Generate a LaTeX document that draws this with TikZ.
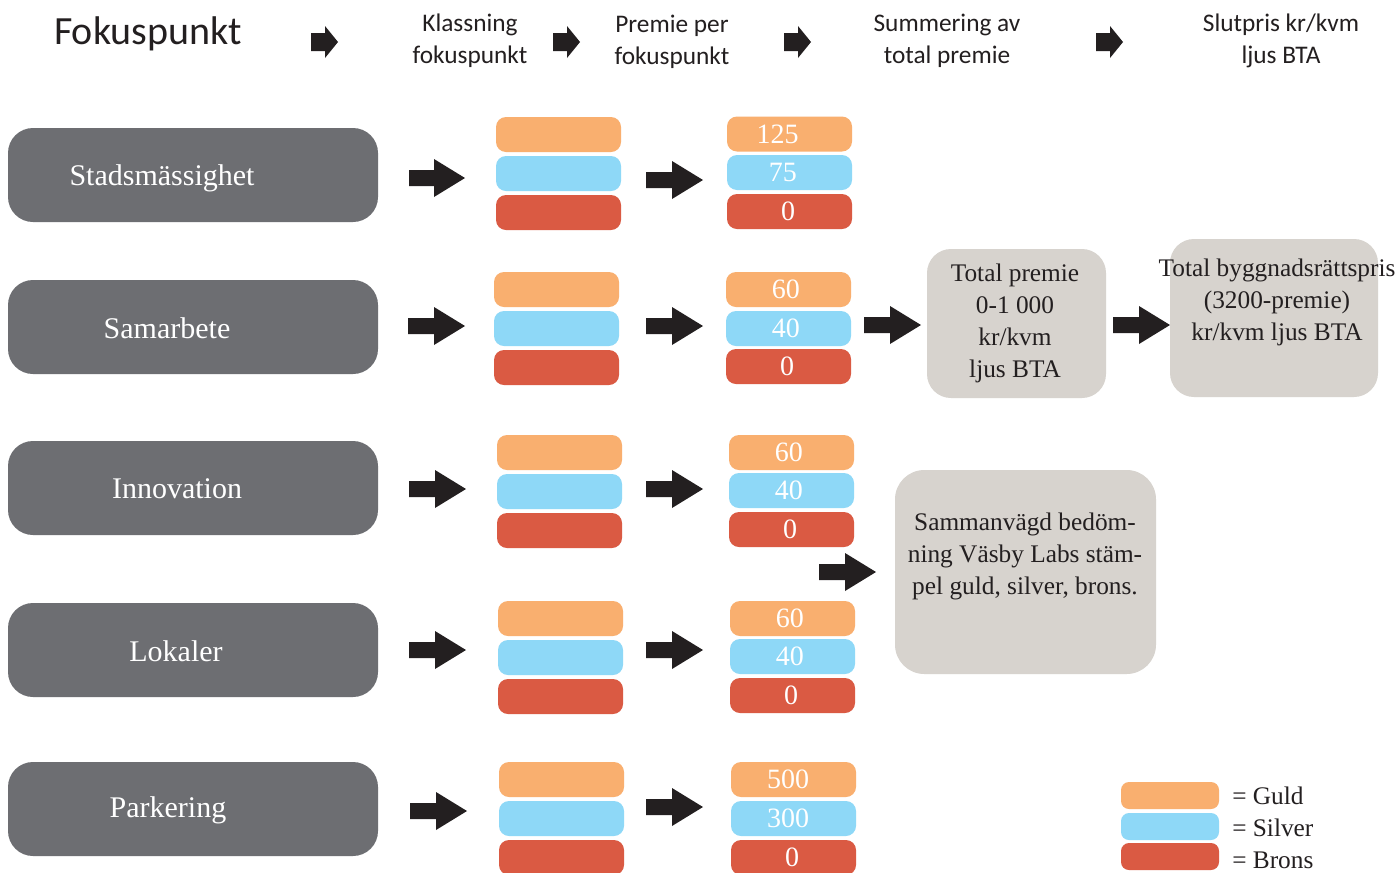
\documentclass[tikz,border=0pt]{standalone}
\usepackage{fontspec}
\setmainfont{Liberation Serif}
\newfontfamily\hdrfont{Carlito}
\definecolor{cgold}{HTML}{F9AF6F}
\definecolor{csilver}{HTML}{8ED8F7}
\definecolor{cbrons}{HTML}{DA5A43}
\definecolor{cdark}{HTML}{6D6E72}
\definecolor{clight}{HTML}{D7D3CE}
\definecolor{carrow}{HTML}{231F20}
\newcommand\blockarr[7]{%
  \coordinate (#1) at (#2,#3);
  \fill[arrowfill] (#1) ++(0,-#6) -- ++({#4-#5},0) -- ++(0,{#6-#7}) -- ++(#5,#7) -- ++(-#5,#7) -- ++(0,{#6-#7}) -- ++({#5-#4},0) -- cycle;}
\tikzset{
  arrowfill/.style={fill=carrow},
  bar/.style={rectangle, rounded corners=7.5pt, minimum width=93.75pt, minimum height=26.25pt, inner sep=0pt, text=white, font=\fontsize{21}{24}\selectfont},
  gbar/.style={bar, fill=cgold},
  sbar/.style={bar, fill=csilver},
  bbar/.style={bar, fill=cbrons},
  darkbox/.style={rectangle, rounded corners=18.75pt, fill=cdark, minimum width=277.5pt, minimum height=70.5pt, inner sep=0pt},
  darklabel/.style={text=white, font=\fontsize{22.5}{26}\selectfont, inner sep=0pt},
  lightbox/.style={rectangle, rounded corners=18pt, fill=clight, inner sep=0pt},
  bodytext/.style={text=carrow, align=center, font=\fontsize{19}{24}\selectfont, inner sep=0pt},
  hdr/.style={text=carrow, align=center, font=\hdrfont\fontsize{19}{24}\selectfont, inner sep=0pt},
  legbar/.style={rectangle, rounded corners=6pt, minimum width=73.5pt, minimum height=20.25pt, inner sep=0pt},
  legtext/.style={text=carrow, anchor=west, font=\fontsize{19}{22}\selectfont, inner sep=0pt}
}
\begin{document}
\begin{tikzpicture}[x=0.75pt,y=-0.75pt]
\useasboundingbox[fill=white] (0,0) rectangle (1399,872);

% header
\node[hdr, font=\hdrfont\fontsize{30}{34}\selectfont] (h0) at (148,34) {Fokuspunkt};
\node[hdr] (h1) at (470,41) {Klassning\\fokuspunkt};
\node[hdr] (h2) at (672,42) {Premie per\\fokuspunkt};
\node[hdr] (h3) at (947,41) {Summering av\\total premie};
\node[hdr] (h4) at (1281,41) {Slutpris kr/kvm\\ljus BTA};
\blockarr{ha1}{311}{42}{27}{13}{9}{16}
\blockarr{ha2}{553}{42}{27}{13}{9}{16}
\blockarr{ha3}{784}{42}{27}{13}{9}{16}
\blockarr{ha4}{1096}{42}{27}{13}{9}{16}

% dark boxes
\node[darkbox] (r1) at (193,175) {};
\node[darkbox] (r2) at (193,327) {};
\node[darkbox] (r3) at (193,488) {};
\node[darkbox] (r4) at (193,650) {};
\node[darkbox] (r5) at (193,809) {};
\node[darklabel] (l1) at (162,178) {Stadsmässighet};
\node[darklabel] (l2) at (167,328) {Samarbete};
\node[darklabel] (l3) at (177,489) {Innovation};
\node[darklabel] (l4) at (176,651) {Lokaler};
\node[darklabel] (l5) at (168,810) {Parkering};

% row 1
\blockarr{a11}{409}{178}{56}{31}{8}{19}
\node[gbar] (k1g) at (558.5,134.5) {};
\node[sbar] (k1s) at (558.5,173.5) {};
\node[bbar] (k1b) at (558.5,212.5) {};
\blockarr{a12}{646}{180}{57}{31}{8}{19}
\node[gbar] (p1g) at (789.5,134) {\hspace*{-18pt}125};
\node[sbar] (p1s) at (789.5,172.5) {\hspace*{-10pt}75};
\node[bbar] (p1b) at (789.5,211.5) {\hspace*{-2pt}0};

% row 2
\blockarr{a21}{408}{326}{57}{31}{8}{19}
\node[gbar] (k2g) at (556.5,289.5) {};
\node[sbar] (k2s) at (556.5,328.5) {};
\node[bbar] (k2b) at (556.5,367.5) {};
\blockarr{a22}{646}{326}{57}{31}{8}{19}
\node[gbar] (p2g) at (788.5,289.5) {\hspace*{-4pt}60};
\node[sbar] (p2s) at (788.5,328.5) {\hspace*{-4pt}40};
\node[bbar] (p2b) at (788.5,366.5) {\hspace*{-2pt}0};

% row 3
\blockarr{a31}{409}{489}{57}{31}{8}{19}
\node[gbar] (k3g) at (559.5,452.5) {};
\node[sbar] (k3s) at (559.5,491.5) {};
\node[bbar] (k3b) at (559.5,530.5) {};
\blockarr{a32}{646}{489}{57}{31}{8}{19}
\node[gbar] (p3g) at (791.5,452.5) {\hspace*{-4pt}60};
\node[sbar] (p3s) at (791.5,490.5) {\hspace*{-4pt}40};
\node[bbar] (p3b) at (791.5,529.5) {\hspace*{-2pt}0};

% row 4
\blockarr{a41}{409}{650}{57}{31}{8}{19}
\node[gbar] (k4g) at (560.5,618.5) {};
\node[sbar] (k4s) at (560.5,657.5) {};
\node[bbar] (k4b) at (560.5,696.5) {};
\blockarr{a42}{646}{650}{57}{31}{8}{19}
\node[gbar] (p4g) at (792.5,618.5) {\hspace*{-4pt}60};
\node[sbar] (p4s) at (792.5,656.5) {\hspace*{-4pt}40};
\node[bbar] (p4b) at (792.5,695.5) {\hspace*{-2pt}0};

% row 5
\blockarr{a51}{410}{811}{57}{31}{8}{19}
\node[gbar] (k5g) at (561.5,779.5) {};
\node[sbar] (k5s) at (561.5,818.5) {};
\node[bbar] (k5b) at (561.5,857.5) {};
\blockarr{a52}{646}{807}{57}{31}{8}{19}
\node[gbar] (p5g) at (793.5,779.5) {\hspace*{-8pt}500};
\node[sbar] (p5s) at (793.5,818.5) {\hspace*{-8pt}300};
\node[bbar] (p5b) at (793.5,857.5) {\hspace*{-2pt}0};

% totals
\blockarr{at1}{864}{325}{57}{31}{8}{19}
\node[lightbox, minimum width=134.25pt, minimum height=111.75pt] (tp) at (1016.5,323.5) {};
\node[bodytext] (tpt) at (1015,323.5) {Total premie\\0-1 000\\kr/kvm\\ljus BTA};
\blockarr{at2}{1113}{325}{57}{31}{8}{19}
\node[lightbox, minimum width=156pt, minimum height=118.5pt] (bp) at (1274,318) {};
\node[bodytext] (bpt) at (1277,302) {Total byggnadsrättspris\\(3200-premie)\\kr/kvm ljus BTA};

\blockarr{at3}{819}{572}{57}{31}{8}{19}
\node[lightbox, rounded corners=22pt, minimum width=195.75pt, minimum height=153pt] (sv) at (1025.5,572) {};
\node[bodytext] (svt) at (1025,556) {Sammanvägd bedöm-\\ning Väsby Labs stäm-\\pel guld, silver, brons.};

% legend
\node[legbar, fill=cgold] (lg) at (1170,795.5) {};
\node[legbar, fill=csilver] (ls) at (1170,826.5) {};
\node[legbar, fill=cbrons] (lb) at (1170,856.5) {};
\node[legtext] (lgt) at (1232,796) {= Guld};
\node[legtext] (lst) at (1232,828) {= Silver};
\node[legtext] (lbt) at (1232,860) {= Brons};
\end{tikzpicture}
\end{document}
